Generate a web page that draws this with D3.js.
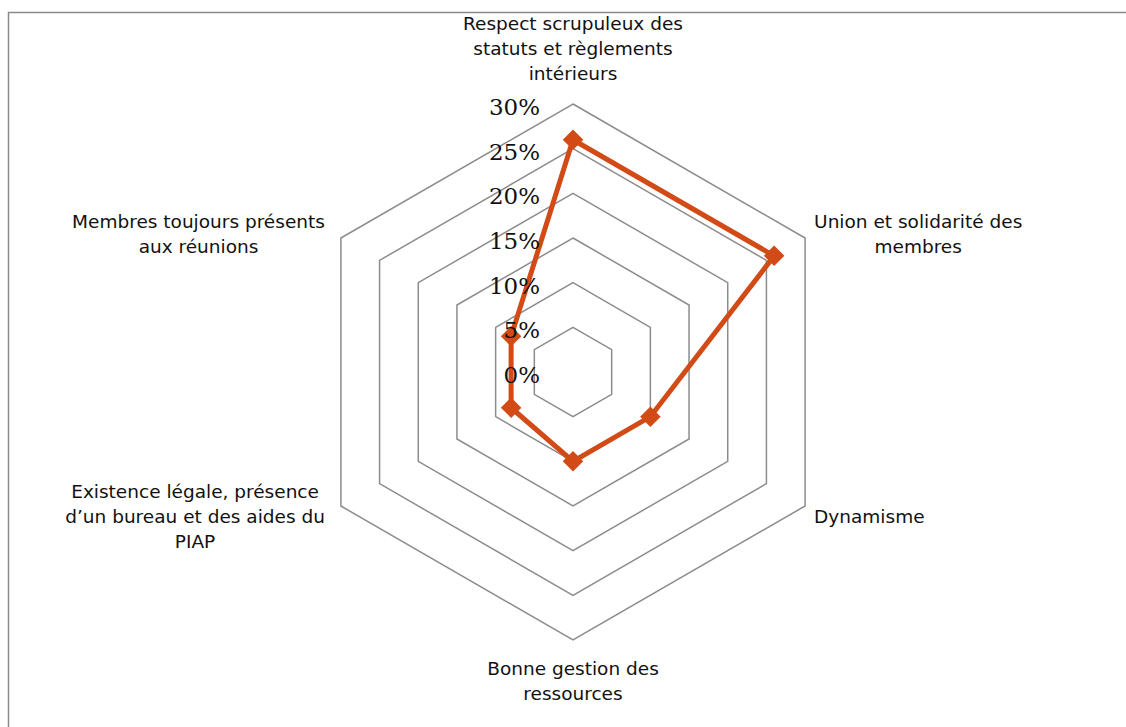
<!DOCTYPE html>
<html><head><meta charset="utf-8">
<script src="https://cdn.jsdelivr.net/npm/d3@7"></script>
<style>html,body{margin:0;padding:0;background:#fff;overflow:hidden}</style>
</head><body>
<svg id="c" width="1126" height="727"></svg>
<script>
const categories = [
  "Respect scrupuleux des statuts et règlements intérieurs",
  "Union et solidarité des membres",
  "Dynamisme",
  "Bonne gestion des ressources",
  "Existence légale, présence d’un bureau et des aides du PIAP",
  "Membres toujours présents aux réunions"
];
const labelLines = [
  ["Respect scrupuleux des", "statuts et règlements", "intérieurs"],
  ["Union et solidarité des", "membres"],
  ["Dynamisme"],
  ["Bonne gestion des", "ressources"],
  ["Existence légale, présence", "d’un bureau et des aides du", "PIAP"],
  ["Membres toujours présents", "aux réunions"]
];
const values = [26, 26, 10, 10, 8, 8];
const tickValues = [0, 5, 10, 15, 20, 25, 30];
const tickLabels = ["0%", "5%", "10%", "15%", "20%", "25%", "30%"];

const svg = d3.select("#c");
const cx = 573, cy = 372, R = 268;
const r = d3.scaleLinear().domain([0, 30]).range([0, R]);
const ang = d3.scaleLinear().domain([0, categories.length]).range([-Math.PI/2, 1.5*Math.PI]);
const pt = (i, v) => [cx + r(v)*Math.cos(ang(i)), cy + r(v)*Math.sin(ang(i))];

// border
svg.append("rect").attr("x", 8.5).attr("y", 12.5).attr("width", 1200).attr("height", 800)
  .attr("fill", "none").attr("stroke", "#8a8a8a").attr("stroke-width", 1.5);

// grid hexagons
const g = svg.append("g");
tickValues.filter(t => t > 0).forEach(t => {
  const pts = categories.map((c, i) => pt(i, t));
  g.append("path").attr("d", d3.line().curve(d3.curveLinearClosed)(pts))
    .attr("fill", "none").attr("stroke", "#8c8c8c").attr("stroke-width", 1.5);
});

// data line
const dpts = values.map((v, i) => pt(i, v));
svg.append("path").attr("d", d3.line().curve(d3.curveLinearClosed)(dpts))
  .attr("fill", "none").attr("stroke", "#D24A15").attr("stroke-width", 5).attr("stroke-linejoin", "miter");
svg.selectAll("path.mk").data(dpts).join("path").attr("class", "mk")
  .attr("d", d3.symbol().type(d3.symbolSquare).size(210))
  .attr("transform", d => `translate(${d[0]},${d[1]}) rotate(45)`)
  .attr("fill", "#D24A15");

// tick labels
svg.selectAll("text.tk").data(tickValues).join("text").attr("class", "tk")
  .attr("x", 540).attr("y", d => cy - r(d) + 11)
  .attr("text-anchor", "end")
  .attr("font-family", "'DejaVu Serif', serif").attr("font-size", 23)
  .attr("fill", "#111")
  .text((d, i) => tickLabels[i]);

// category labels
const lh = 25;
const fs = 18.5;
labelLines.forEach((lines, i) => {
  const [vx, vy] = pt(i, 30);
  const t = svg.append("text").attr("font-family", "'DejaVu Sans', sans-serif")
    .attr("font-size", fs).attr("fill", "#111").attr("text-anchor", "middle");
  const spans = lines.map(l => t.append("tspan").text(l));
  const w = d3.max(spans, s => s.node().getComputedTextLength());
  const n = lines.length;
  let bx, by;
  const c = Math.cos(ang(i)), s = Math.sin(ang(i));
  if (Math.abs(c) < 0.01) {
    bx = vx;
    by = s < 0 ? vy - 27 - (n - 1) * lh / 2 - 4 : vy + 28 + (n - 1) * lh / 2;
  } else if (c > 0) {
    bx = vx + 9 + w / 2;
    by = s < 0 ? vy - 4.5 : vy + 10;
  } else {
    bx = vx - 16 - w / 2;
    by = s < 0 ? vy - 4.5 : vy + 10;
  }
  spans.forEach((sp, k) => {
    sp.attr("x", bx).attr("y", by + (k - (n - 1) / 2) * lh).attr("dy", "0.36em");
  });
});
</script>
</body></html>
